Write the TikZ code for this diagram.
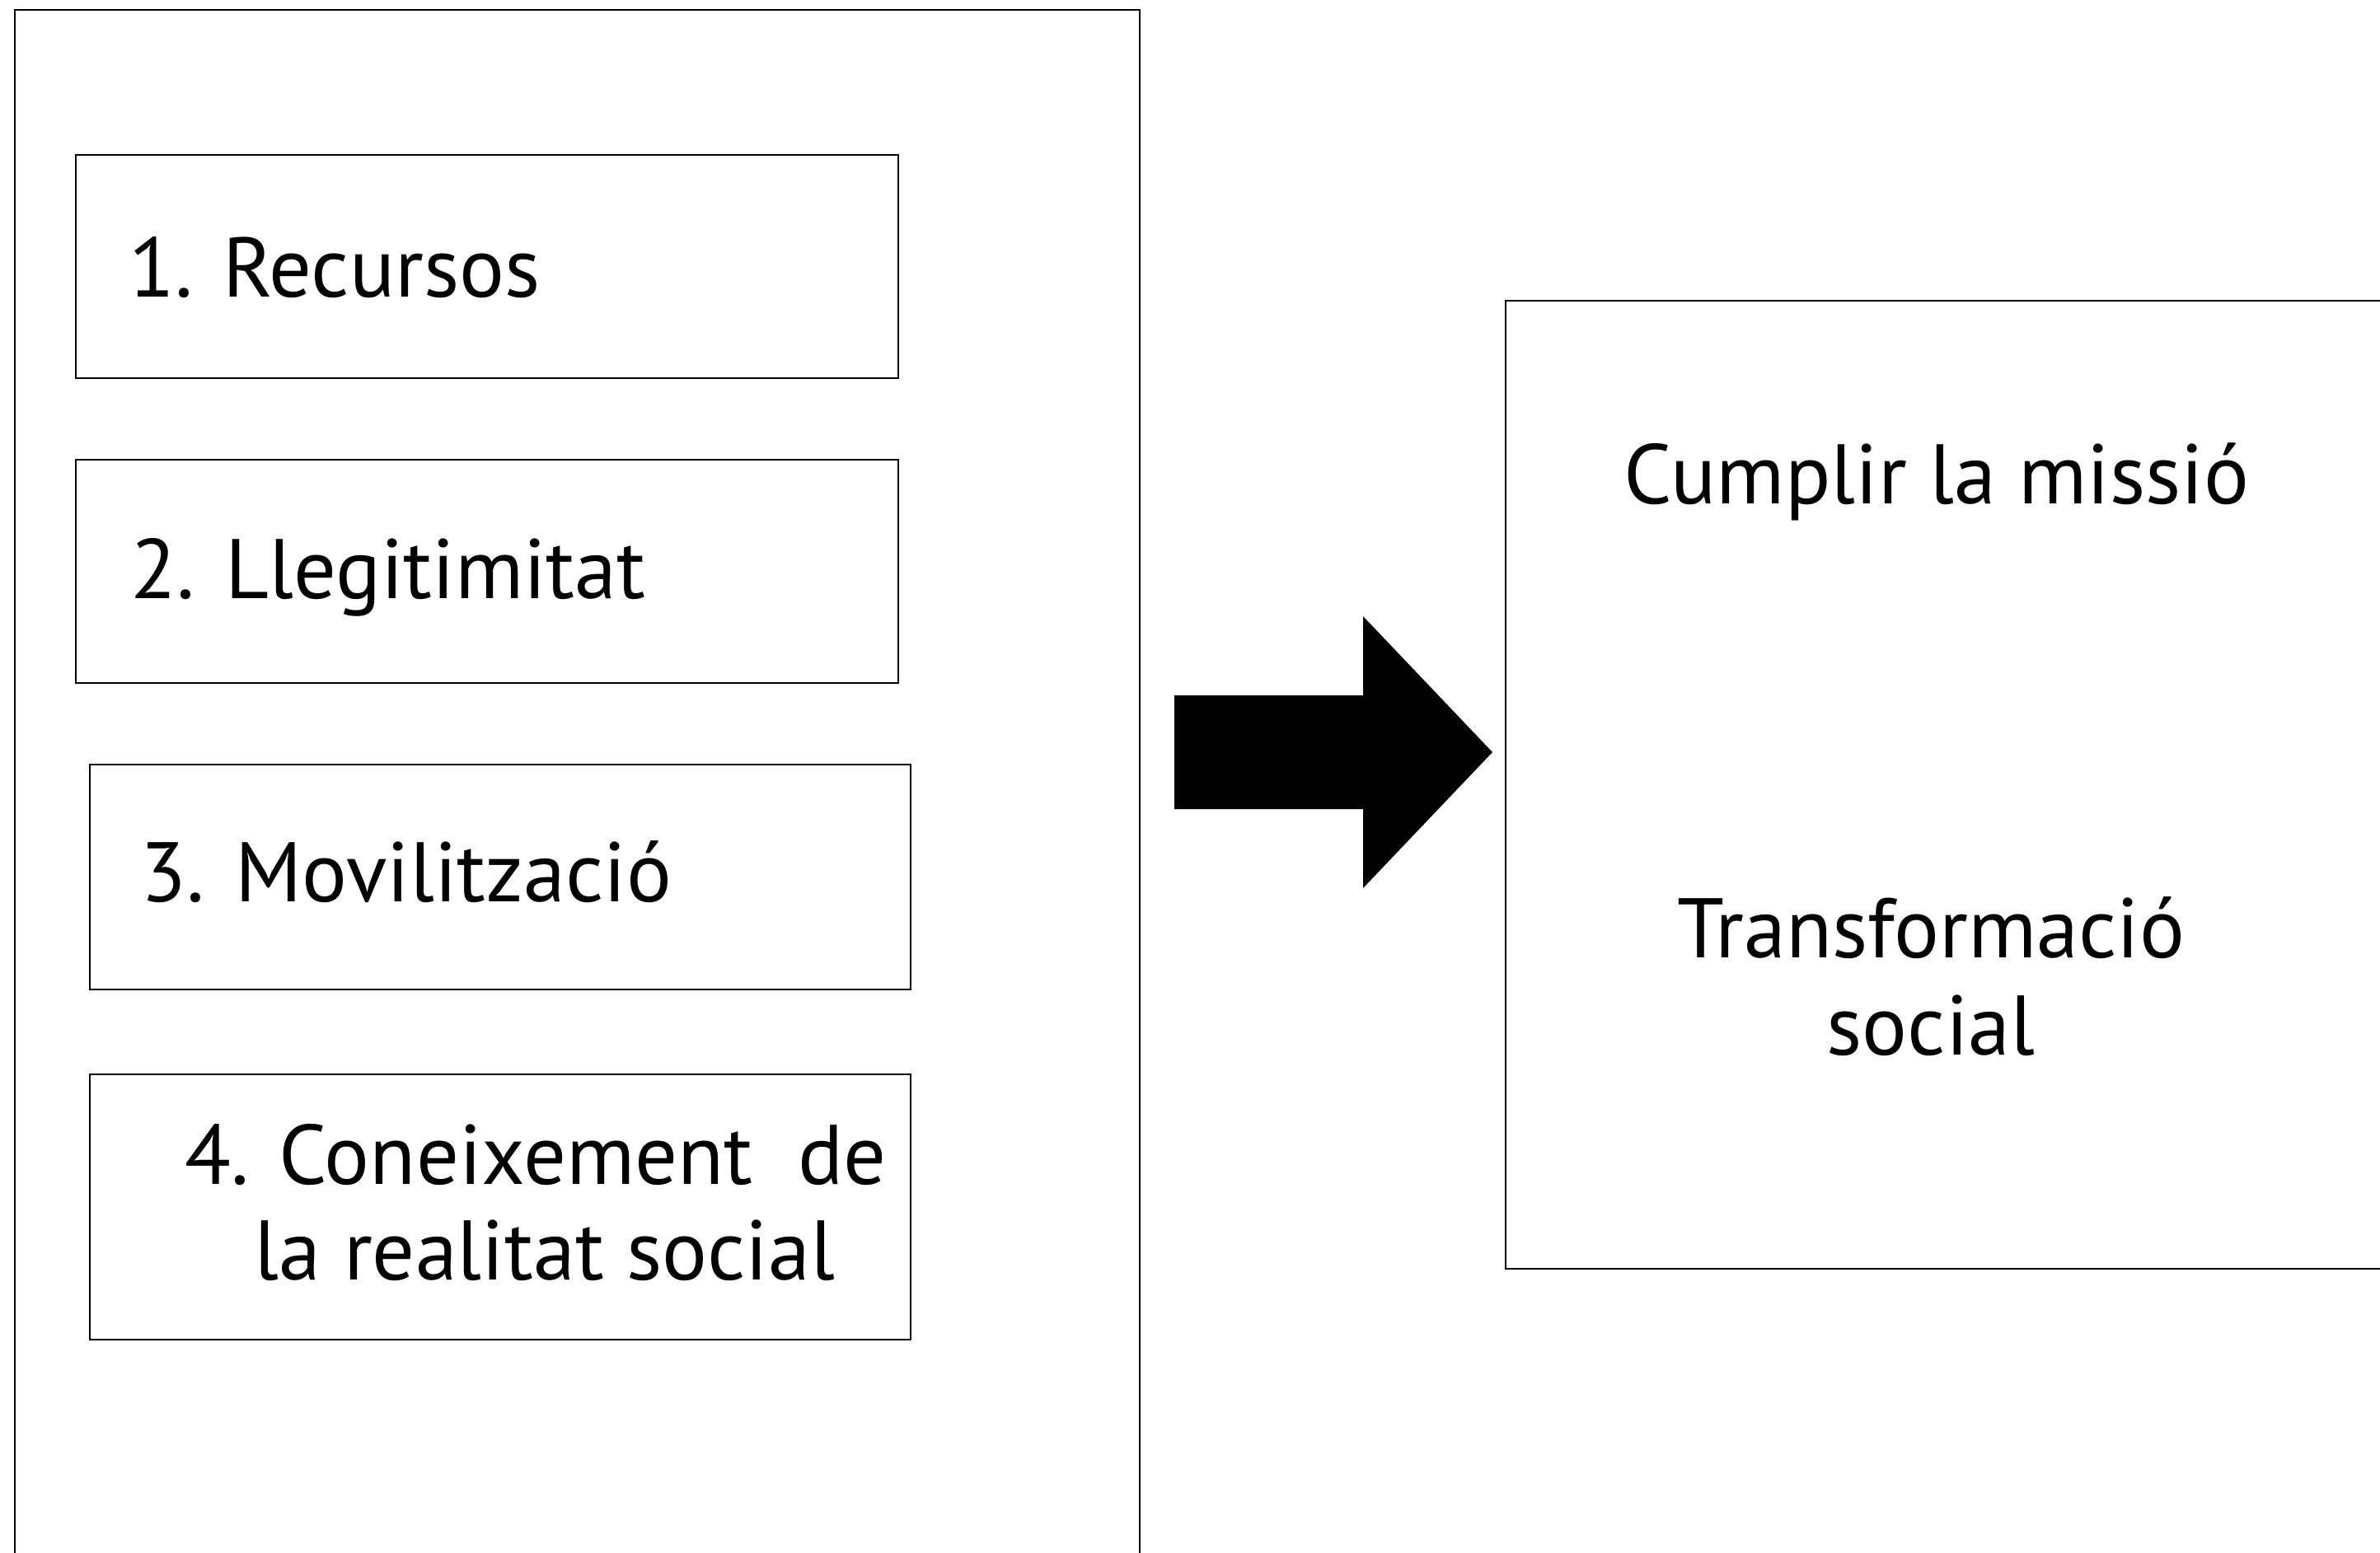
\documentclass[tikz,border=0pt]{standalone}
\usepackage{fontspec}
\setmainfont{PT Sans}
\usetikzlibrary{calc}
\tikzset{
  item/.style={draw, line width=0.7pt, inner sep=0pt, minimum width=9.98cm, minimum height=2.71cm},
  lbl/.style={anchor=base, inner sep=0pt, font=\fontsize{29.2}{33}\selectfont},
}

\begin{document}
\begin{tikzpicture}
    % Page frame
    \useasboundingbox (0,0) rectangle (28.88,-18.85);
    \clip (0,0) rectangle (28.88,-18.85);

    % Draw the two big frames (both run off the page)
    \draw[line width=0.7pt] (0.18,-0.12) rectangle (13.83,-19.5);
    \draw[line width=0.7pt] (18.27,-3.65) rectangle (29.5,-15.40);

    % Draw the four boxes
    \node[item] (r1) at (5.91,-3.235) {};
    \node[item] (r2) at (5.91,-6.935) {};
    \node[item, minimum width=9.96cm, minimum height=2.73cm] (r3) at (6.07,-10.645) {};
    \node[item, minimum width=9.96cm, minimum height=3.22cm] (r4) at (6.07,-14.65) {};

    \node[lbl] (t1) at (4.06,-3.61) {1. Recursos};
    \node[lbl] (t2) at (4.71,-7.26) {2. Llegitimitat};
    \node[lbl] (t3) at (4.93,-10.94) {3. Movilització};
    \node[lbl] (t4a) at (6.50,-14.37) {4. Coneixement\ \ de};
    \node[lbl] (t4b) at (6.61,-15.53) {la realitat social};

    % Texts of the right frame
    \node[lbl] (m1) at (23.50,-6.12) {Cumplir la missió};
    \node[lbl] (m2) at (23.43,-11.62) {Transformació};
    \node[lbl] (m3) at (23.43,-12.80) {social};

    % Draw the block arrow
    \coordinate (S) at (14.25,-9.13);
    \coordinate (T) at (18.11,-9.13);
    \fill ($(S)+(0,0.69)$) -- (16.54,-8.44) -- (16.54,-7.48) -- (T)
        -- (16.54,-10.78) -- (16.54,-9.82) -- ($(S)+(0,-0.69)$) -- cycle;

\end{tikzpicture}
\end{document}
